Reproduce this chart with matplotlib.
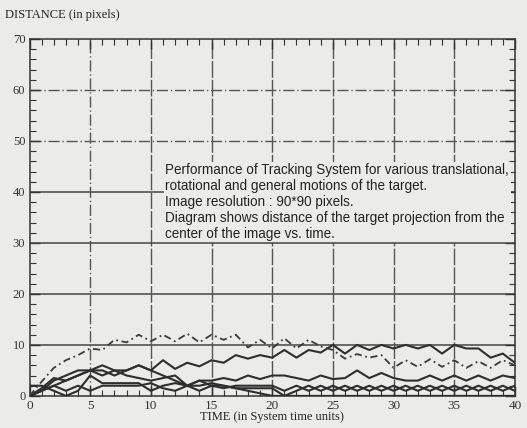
import matplotlib
matplotlib.use("Agg")
import matplotlib.pyplot as plt
import numpy as np

time = list(range(0, 41))

dashdot = [0, 2.8, 5.5, 7, 8, 9.3, 9, 11, 10.5, 12, 10.7, 12, 10.7, 12.2, 10.5, 12, 11, 12,
           9.5, 11, 9.3, 11.3, 9.3, 11, 9.7, 9, 7.3, 8.2, 7.5, 8, 5.5, 7, 5.7, 7.2, 5.7, 7,
           5.5, 6.8, 5.5, 7, 6]

line_a = [0, 1.5, 3.5, 3, 4, 5, 6, 5, 5, 6, 5, 7, 5.3, 6.5, 5.8, 7, 6.5, 8, 7.3, 8, 7.5,
          9, 7.5, 9, 8.5, 10, 8.3, 10, 9, 10, 9.3, 10, 9.3, 10, 8.3, 10, 9.3, 9.3, 7.5, 8.3, 6.5]

line_b = [0, 1, 3, 4, 5, 5, 4, 5, 4, 3.5, 3, 3.5, 4, 2, 3, 3, 3.5, 3, 4, 3.3, 4, 4, 3.5,
          3, 4, 3.3, 3.5, 5, 3.5, 4.5, 3.5, 3, 3, 4, 3, 4, 3, 4, 3, 4, 3.5]

line_c = [2, 2, 1, 0, 1, 4, 2.5, 2.5, 2.5, 2.5, 1, 2, 2.5, 2, 3, 2, 2, 1.5, 1.5, 1.5, 1.5,
          0, 1, 2, 1, 2, 1, 2, 1, 2, 1, 2, 1, 2, 1, 2, 1, 2, 1, 2, 1]

line_e = [0, 1, 2, 1, 2, 1, 2, 2, 2, 2, 2.5, 1.5, 1, 2, 1, 2, 1.5, 2, 2, 2, 2, 1, 2, 1, 2,
          1, 2, 1, 2, 1, 2, 1, 2, 1, 2, 1, 2, 1, 2, 1, 2]

line_f = [0, 1, 2, 3, 4, 5, 5, 4, 5, 6, 5, 4, 3, 2, 2, 2.5, 2, 1.5, 1, 0.5, 0, 0, 0, 0, 0,
          0, 0, 0, 0, 0, 0, 0, 0, 0, 0, 0, 0, 0, 0, 0, 0]

y_ticks = [0, 10, 20, 30, 40, 50, 60, 70]
y_ticklabels = ["0", "10", "20", "30", "40", "50", "60", "70"]
x_ticks = [0, 5, 10, 15, 20, 25, 30, 35, 40]

note = ("Performance of Tracking System for various translational,\n"
        "rotational and general motions of the target.\n"
        "Image resolution : 90*90 pixels.\n"
        "Diagram shows distance of the target projection from the\n"
        "center of the image vs. time.")

paper = "#ebebe9"
ink = "#2e2e2e"

fig = plt.figure(figsize=(5.27, 4.28), dpi=100, facecolor=paper)
ax = fig.add_axes([0.056, 0.075, 0.921, 0.834])
ax.set_facecolor(paper)

ax.set_xlim(0, 40)
ax.set_ylim(0, 70)

serif = ["Liberation Serif", "DejaVu Serif"]

# grid
for yv in [10, 20, 40]:
    ax.axhline(yv, color="#444444", lw=1.1, zorder=1)
ax.axhline(30, color="#444444", lw=1.1, zorder=2.2)
for yv in [50, 60]:
    ax.axhline(yv, color="#555555", lw=1.0, ls=(0, (8, 2, 1, 2)), zorder=1)
ax.axvline(5, color="#555555", lw=1.0, ls=(0, (8, 2, 1, 2)), zorder=1)
for xv in [10, 15, 20, 25, 30, 35]:
    ax.axvline(xv, color="#555555", lw=1.0, ls=(0, (12, 1.5)), zorder=1)

for s in [line_a, line_b, line_c, line_e, line_f]:
    ax.plot(time, s, color=ink, lw=1.5, zorder=3)
ax.plot(time, dashdot, color="#3a3a3a", lw=1.3, ls=(0, (4, 2, 1, 2)), zorder=3)

ax.set_yticks(y_ticks)
ax.set_yticklabels(y_ticklabels, family=serif, fontsize=9, color="#333333")
ax.set_xticks(x_ticks)
ax.set_xticklabels([str(v) for v in x_ticks], family=serif, fontsize=9.5, color="#333333")
ax.set_yticks(np.arange(0, 71, 2), minor=True)
ax.set_xticks(np.arange(0, 41, 1), minor=True)
ax.tick_params(which="both", direction="in", top=True, right=True, color="#333333")
ax.tick_params(which="major", length=7, width=1.0, pad=3)
ax.tick_params(which="minor", length=4, width=0.8)

for sp in ax.spines.values():
    sp.set_color("#333333")
    sp.set_linewidth(1.1)

ax.text(11.2, 45.6, note, fontsize=9.75, family=["Liberation Sans", "DejaVu Sans"],
        color="#222222", va="top", ha="left", linespacing=1.18, zorder=2,
        bbox=dict(boxstyle="square,pad=0.12", facecolor=paper, edgecolor="none"))

fig.text(0.01, 0.965, "DISTANCE (in pixels)", family=serif, fontsize=9,
         color="#222222", va="center", ha="left")
ax.set_xlabel("TIME (in System time units)", family=serif, fontsize=9,
              color="#222222", labelpad=-1)

fig.savefig("out.png", dpi=100, facecolor=paper)
